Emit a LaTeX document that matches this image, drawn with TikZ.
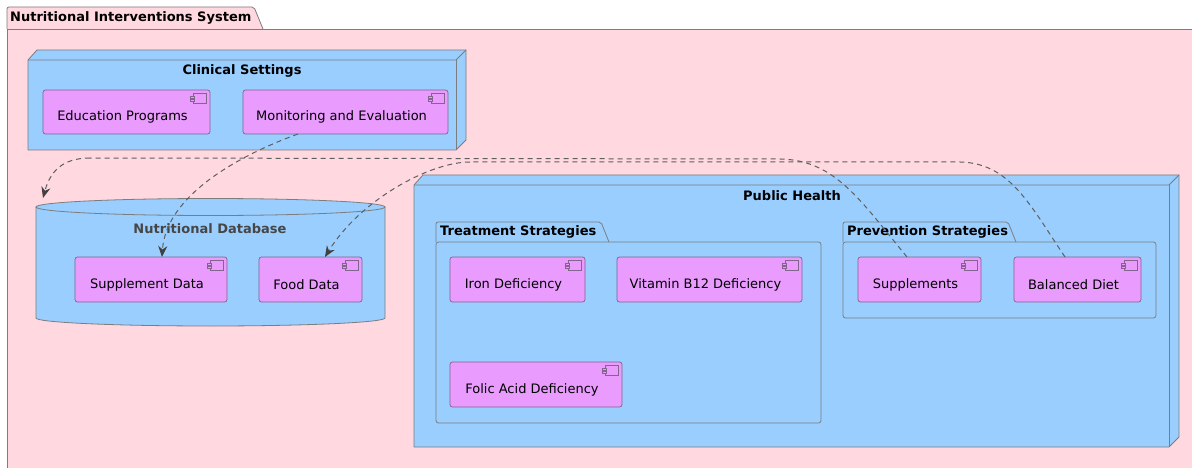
\documentclass[tikz,border=0pt]{standalone}
\usepackage{fontspec}
\setmainfont{DejaVu Sans}
\usetikzlibrary{calc,arrows.meta}
\definecolor{pinkbg}{RGB}{255,216,224}
\definecolor{nodeblue}{RGB}{153,206,255}
\definecolor{compviolet}{RGB}{233,155,254}
\definecolor{bordergray}{RGB}{125,125,125}
\definecolor{compborder}{RGB}{130,100,140}
\definecolor{edgegray}{RGB}{95,95,95}
\definecolor{arrowgray}{RGB}{65,65,65}
\definecolor{dbtitle}{RGB}{70,70,70}
\newcommand\mycomp[6]{%
  \node[comp, anchor=north west, minimum width={#4pt-#2pt}, minimum height={#5pt-#3pt}] (#1) at (#2,#3) {};
  \node[comptext] (#1-t) at ($(#1.center)+(-4,5)$) {#6};
  \draw[icon] ($(#1.north east)+(-17,3)$) rectangle ++(13,10);
  \draw[icon] ($(#1.north east)+(-20,6)$) rectangle ++(4,2.2);
  \draw[icon] ($(#1.north east)+(-20,9.5)$) rectangle ++(4,2.2);
}
\begin{document}
\begin{tikzpicture}[x=1pt,y=-1pt,
  comp/.style={draw=compborder, fill=compviolet, rounded corners=2.5pt, line width=0.7pt, inner sep=0pt, outer sep=0pt},
  comptext/.style={font=\fontsize{13}{15}\selectfont, inner sep=0pt},
  ttl/.style={font=\fontsize{13}{15}\selectfont\bfseries, inner sep=0pt},
  pkg/.style={draw=bordergray, line width=0.8pt},
  box3d/.style={draw=bordergray, fill=nodeblue, line width=0.8pt, line join=round},
  edge/.style={draw=edgegray, dash pattern=on 5pt off 4pt, line width=1pt, -{Stealth[length=11pt,width=9pt,inset=3.5pt,color=arrowgray]}},
  plainedge/.style={draw=edgegray, dash pattern=on 5pt off 4pt, line width=1pt},
  icon/.style={draw=compborder, line width=0.5pt, fill=compviolet}
]
\useasboundingbox (0,0) rectangle (1192,468);
\fill[white] (0,0) rectangle (1192,468);
\begin{scope}
\clip (0,0) rectangle (1192,468);
% outer package
\draw[pkg, fill=pinkbg, rounded corners=2pt] (7,29) -- (7,7) -- (254,7) -- (263,29);
\draw[pkg, fill=pinkbg] (7,29) rectangle (1200,480);
\end{scope}
\node[ttl, anchor=west] (sys) at (10,18) {Nutritional Interventions System};

% Clinical Settings node (3D)
\draw[box3d] (28,60) -- (37,50) -- (466,50) -- (466,140) -- (456,150) -- (28,150) -- cycle;
\draw[box3d, fill=none] (28,60) -- (456,60) -- (466,50);
\draw[box3d, fill=none] (456,60) -- (456,150);
\node[ttl] (clin) at (242,71) {Clinical Settings};

% Nutritional Database (cylinder)
\fill[nodeblue] (36,207) -- (36,318) arc[start angle=180, end angle=0, x radius=174.5, y radius=8] -- (385,207) -- cycle;
\fill[nodeblue] (210.5,207) ellipse[x radius=174.5, y radius=8.5];
\draw[draw=bordergray, line width=0.8pt] (36,207) -- (36,318) arc[start angle=180, end angle=0, x radius=174.5, y radius=8] -- (385,207);
\draw[draw=bordergray, line width=0.8pt] (210.5,207) ellipse[x radius=174.5, y radius=8.5];
\node[ttl, text=dbtitle] (db) at (210,229) {Nutritional Database};
\coordinate (dbtip) at (43,198);

% Public Health node (3D)
\draw[box3d] (414,185) -- (423,175) -- (1179,175) -- (1179,437) -- (1169,447) -- (414,447) -- cycle;
\draw[box3d, fill=none] (414,185) -- (1169,185) -- (1179,175);
\draw[box3d, fill=none] (1169,185) -- (1169,447);
\node[ttl] (ph) at (792,196) {Public Health};

% Treatment Strategies package
\draw[pkg, rounded corners=2pt] (436,242) -- (436,222) -- (601,222) -- (609,242);
\draw[pkg, rounded corners=2.5pt] (436,242) rectangle (821,423);
\node[ttl, anchor=west] (treat) at (440,232) {Treatment Strategies};

% Prevention Strategies package
\draw[pkg, rounded corners=2pt] (843,242) -- (843,222) -- (1008,222) -- (1016,242);
\draw[pkg, rounded corners=2.5pt] (843,242) rectangle (1156,318);
\node[ttl, anchor=west] (prev) at (847,232) {Prevention Strategies};

% components
\mycomp{edu}{43}{90}{210}{134}{Education Programs}
\mycomp{mon}{243}{90}{448}{134}{Monitoring and Evaluation}
\mycomp{supd}{75}{257}{227}{302}{Supplement Data}
\mycomp{food}{259}{257}{362}{302}{Food Data}
\mycomp{iron}{450}{257}{585}{302}{Iron Deficiency}
\mycomp{vitb}{617}{257}{802}{302}{Vitamin B12 Deficiency}
\mycomp{folic}{450}{362}{622}{407}{Folic Acid Deficiency}
\mycomp{supp}{858}{257}{981}{302}{Supplements}
\mycomp{diet}{1014}{257}{1141}{302}{Balanced Diet}

% connectors
\draw[edge] ($(mon.south west)+(55,0)$) .. controls (240,155) and (166,195) .. ($(supd.north west)+(87,0)$);
\draw[plainedge] ($(supp.north west)+(49,0)$) .. controls (860,200) and (835,160) .. (780,159) -- (90,158);
\draw[edge] (90,158) .. controls (62,158) and (50,172) .. (dbtip);
\draw[plainedge] ($(diet.north west)+(51,0)$) .. controls (1030,205) and (1010,163) .. (960,162) -- (470,162);
\draw[edge] (470,162) .. controls (430,162) and (360,200) .. ($(food.north west)+(66,0)$);
\end{tikzpicture}
\end{document}
